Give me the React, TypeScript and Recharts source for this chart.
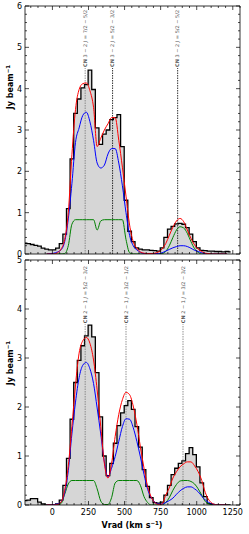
import { ComposedChart, Area, Line, XAxis, YAxis, ReferenceLine } from "recharts";

// channel velocities (km/s)
const velocity = [
  -190, -165, -140, -115, -90, -65, -40, -15, 10, 35,
  60, 85, 110, 135, 160, 185, 210, 235, 260, 285,
  310, 335, 360, 385, 410, 435, 460, 485, 510, 535,
  560, 585, 610, 635, 660, 685, 710, 735, 760, 785,
  810, 835, 860, 885, 910, 935, 960, 985, 1010, 1035,
  1060, 1085, 1110, 1135, 1160, 1185, 1210, 1235,
];

// CN 3-2 panel
const topObserved = [
  0.26, 0.25, 0.23, 0.21, 0.19, 0.14, 0.12, 0.1, 0.1, 0.14,
  0.25, 0.48, 1.1, 2.3, 3.4, 3.75, 4.02, 4.1, 4.45, 3.98,
  3.05, 2.65, 2.9, 3.0, 3.25, 3.3, 3.37, 2.6, 1.3, 0.55,
  0.3, 0.15, 0.12, 0.1, 0.1, 0.09, 0.08, 0.07, 0.15, 0.4,
  0.6, 0.67, 0.73, 0.74, 0.72, 0.64, 0.48, 0.3, 0.15, 0.09,
  0.08, 0.07, 0.07, 0.06, 0.06, 0.05, 0.06, 0.05,
];
const topTotal = [
  null, null, null, null, null, null, 0, 0, 0, 0.03,
  0.12, 0.35, 1.0, 2.4, 3.5, 3.98, 4.12, 4.14, 3.95, 3.55,
  2.6, 2.8, 3.0, 3.15, 3.3, 3.3, 2.75, 2.1, 1.4, 0.7,
  0.3, 0.14, 0.05, 0.02, 0.01, 0.01, 0.02, 0.05, 0.12, 0.25,
  0.45, 0.65, 0.8, 0.86, 0.78, 0.58, 0.38, 0.22, 0.12, 0.06,
  0.02, 0.01, 0, 0, 0, 0, 0, null,
];
const topBroad = [
  null, null, null, null, null, null, 0, 0.01, 0.02, 0.05,
  0.1, 0.3, 0.85, 1.7, 2.7, 3.05, 3.35, 3.43, 3.2, 2.75,
  2.2, 2.08, 2.15, 2.42, 2.55, 2.55, 2.2, 1.65, 1.0, 0.45,
  0.2, 0.1, 0.04, 0.01, 0.01, 0.01, 0.01, 0.01, 0.03, 0.07,
  0.11, 0.15, 0.18, 0.2, 0.2, 0.18, 0.14, 0.09, 0.06, 0.03,
  0.01, 0, 0, 0, 0, 0, 0, null,
];
const topNarrow = [
  null, null, null, null, null, null, 0, 0, 0, 0,
  0, 0.01, 0.2, 0.72, 0.83, 0.83, 0.83, 0.83, 0.83, 0.83,
  0.58, 0.8, 0.83, 0.83, 0.83, 0.83, 0.83, 0.83, 0.35, 0.03,
  0, 0, 0, 0, 0, 0, 0, 0, 0.01, 0.06,
  0.2, 0.4, 0.58, 0.66, 0.63, 0.5, 0.3, 0.13, 0.04, 0,
  0, 0, 0, 0, 0, 0, 0, null,
];

// CN 2-1 panel
const bottomObserved = [
  0.09, 0.1, 0.13, 0.13, 0.06, 0.02, 0, 0, 0, 0.02,
  0.1, 0.4, 0.95, 1.75, 2.5, 2.95, 3.25, 3.45, 3.67, 3.43,
  2.7, 1.8, 1.0, 0.6, 0.85, 1.26, 1.62, 1.88, 2.03, 2.13,
  1.95, 1.6, 1.18, 0.72, 0.38, 0.15, 0.05, 0.04, 0.06, 0.2,
  0.4, 0.62, 0.75, 0.85, 0.9, 1.05, 1.17, 1.03, 0.78, 0.45,
  0.17, 0.03, 0.01, 0, 0, 0, 0, 0,
];
const bottomTotal = [
  null, null, null, null, null, null, 0, 0, 0, 0.01,
  0.06, 0.3, 0.8, 1.6, 2.45, 3.1, 3.35, 3.42, 3.3, 2.96,
  2.35, 1.6, 0.85, 0.55, 0.85, 1.4, 1.85, 2.15, 2.3, 2.25,
  2.02, 1.65, 1.18, 0.75, 0.38, 0.16, 0.05, 0.01, 0.02, 0.2,
  0.35, 0.55, 0.68, 0.78, 0.84, 0.88, 0.88, 0.8, 0.68, 0.5,
  0.25, 0.1, 0.03, 0, 0, 0, 0, null,
];
const bottomBroad = [
  null, null, null, null, null, null, 0, 0, 0.01, 0.02,
  0.06, 0.25, 0.7, 1.45, 2.1, 2.6, 2.85, 2.91, 2.78, 2.48,
  1.98, 1.45, 0.88, 0.57, 0.75, 0.99, 1.3, 1.6, 1.76, 1.75,
  1.58, 1.3, 0.98, 0.62, 0.32, 0.15, 0.06, 0.02, 0.02, 0.05,
  0.09, 0.14, 0.22, 0.29, 0.34, 0.37, 0.37, 0.33, 0.27, 0.18,
  0.1, 0.05, 0.02, 0, 0, 0, 0, null,
];
const bottomNarrow = [
  null, null, null, null, null, null, 0, 0, 0, 0,
  0.03, 0.22, 0.43, 0.5, 0.5, 0.5, 0.5, 0.5, 0.5, 0.5,
  0.33, 0.08, 0.01, 0.01, 0.15, 0.45, 0.5, 0.5, 0.5, 0.5,
  0.5, 0.5, 0.4, 0.17, 0.05, 0, 0, 0, 0, 0.05,
  0.15, 0.3, 0.42, 0.49, 0.5, 0.5, 0.48, 0.43, 0.33, 0.2,
  0.07, 0.02, 0, 0, 0, 0, 0, null,
];

// transitions marked with vertical lines
const topLines = [
  { v: 227, n: "3 − 2", a: "7/2", b: "5/2", color: "#777" },
  { v: 417, n: "3 − 2", a: "5/2", b: "3/2", color: "#000" },
  { v: 868, n: "3 − 2", a: "5/2", b: "5/2", color: "#000" },
];
const bottomLines = [
  { v: 227, n: "2 − 1", a: "5/2", b: "3/2", color: "#777" },
  { v: 510, n: "2 − 1", a: "3/2", b: "1/2", color: "#777" },
  { v: 905, n: "2 − 1", a: "3/2", b: "3/2", color: "#777" },
];

const xMajor = [0, 250, 500, 750, 1000, 1250];
const xTicks = [
  -150, -100, -50, 0, 50, 100, 150, 200, 250, 300, 350, 400, 450, 500, 550, 600,
  650, 700, 750, 800, 850, 900, 950, 1000, 1050, 1100, 1150, 1200, 1250, 1300,
];
const topYMajor = [0, 1, 2, 3, 4, 5, 6];
const topYTicks = [
  0, 0.2, 0.4, 0.6, 0.8, 1, 1.2, 1.4, 1.6, 1.8, 2, 2.2, 2.4, 2.6, 2.8, 3,
  3.2, 3.4, 3.6, 3.8, 4, 4.2, 4.4, 4.6, 4.8, 5, 5.2, 5.4, 5.6, 5.8, 6,
];
const bottomYMajor = [0, 1, 2, 3, 4, 5];
const bottomYTicks = [
  0, 0.2, 0.4, 0.6, 0.8, 1, 1.2, 1.4, 1.6, 1.8, 2, 2.2, 2.4, 2.6, 2.8, 3,
  3.2, 3.4, 3.6, 3.8, 4, 4.2, 4.4, 4.6, 4.8, 5,
];

const topData = velocity.map((v, i) => ({
  v, obs: topObserved[i], total: topTotal[i], broad: topBroad[i], narrow: topNarrow[i],
}));
const bottomData = velocity.map((v, i) => ({
  v, obs: bottomObserved[i], total: bottomTotal[i], broad: bottomBroad[i], narrow: bottomNarrow[i],
}));

const AX = "#000";

const bottomTick = (labels: boolean) => (p: any) => {
  const major = xMajor.includes(p.payload.value);
  return (
    <g>
      <line x1={p.x} x2={p.x} y1={p.y} y2={p.y - (major ? 4 : 2)} stroke={AX} strokeWidth={0.7} />
      {labels && major ? (
        <text x={p.x} y={p.y + 10} textAnchor="middle" fontSize={8} fill="#000">{p.payload.value}</text>
      ) : null}
    </g>
  );
};
const topTick = (p: any) => {
  const major = xMajor.includes(p.payload.value);
  return <line x1={p.x} x2={p.x} y1={p.y} y2={p.y + (major ? 4 : 2)} stroke={AX} strokeWidth={0.7} />;
};
const leftTick = (majors: number[]) => (p: any) => {
  const major = majors.includes(p.payload.value);
  return (
    <g>
      <line x1={p.x} x2={p.x + (major ? 4 : 2)} y1={p.y} y2={p.y} stroke={AX} strokeWidth={0.7} />
      {major ? (
        <text x={p.x - 3} y={p.y + 3} textAnchor="end" fontSize={8} fill="#000">{p.payload.value}</text>
      ) : null}
    </g>
  );
};
const rightTick = (majors: number[]) => (p: any) => {
  const major = majors.includes(p.payload.value);
  return <line x1={p.x} x2={p.x - (major ? 4 : 2)} y1={p.y} y2={p.y} stroke={AX} strokeWidth={0.7} />;
};

const lineLabel = (l: any) => (props: any) => {
  const vb = props.viewBox || {};
  return (
    <text transform={`translate(${vb.x + 1.8},${vb.y - 1}) rotate(-90)`} fontSize={5} fill="#555">
      <tspan fontWeight="bold">CN</tspan> {l.n} <tspan fontStyle="italic">J</tspan> = {l.a} − {l.b}
    </text>
  );
};

function Panel(props: any) {
  const { data, yMax, yMajor, yTicks, lines, height, margin, segTop, showX, labelY } = props;
  return (
    <ComposedChart width={249} height={height} data={data} margin={margin}>
      <XAxis
        dataKey="v" type="number" domain={[-190, 1300]} allowDataOverflow ticks={xTicks} interval={0}
        height={1} tickSize={0} tickMargin={0} tickLine={false} axisLine={{ stroke: AX, strokeWidth: 0.8 }}
        tick={bottomTick(showX)}
        label={showX ? {
          content: () => (
            <text x={132} y={height - 6} textAnchor="middle" fontSize={8} fontWeight="bold" fill="#000">
              Vrad (km s<tspan dy={-3} fontSize={5.5}>−1</tspan><tspan dy={3}>)</tspan>
            </text>
          ),
        } : undefined}
      />
      <XAxis
        xAxisId="top" orientation="top" dataKey="v" type="number" domain={[-190, 1300]} allowDataOverflow
        ticks={xTicks} interval={0} height={1} tickSize={0} tickMargin={0} tickLine={false}
        axisLine={{ stroke: AX, strokeWidth: 0.8 }} tick={topTick}
      />
      <YAxis
        type="number" domain={[0, yMax]} allowDataOverflow ticks={yTicks} interval={0} width={1}
        tickSize={0} tickMargin={0} tickLine={false} axisLine={{ stroke: AX, strokeWidth: 0.8 }}
        tick={leftTick(yMajor)}
        label={{
          content: () => (
            <text transform={`translate(13,${labelY}) rotate(-90)`} textAnchor="middle" fontSize={8} fontWeight="bold" fill="#000">
              Jy beam<tspan dy={-3} fontSize={5.5}>−1</tspan>
            </text>
          ),
        }}
      />
      <YAxis
        yAxisId="right" orientation="right" type="number" domain={[0, yMax]} allowDataOverflow ticks={yTicks}
        interval={0} width={1} tickSize={0} tickMargin={0} tickLine={false}
        axisLine={{ stroke: AX, strokeWidth: 0.8 }} tick={rightTick(yMajor)}
      />
      <Area
        dataKey="obs" type="step" stroke="#000" strokeWidth={1.3} fill="#d6d6d6" fillOpacity={1}
        baseValue={0} isAnimationActive={false} dot={false} activeDot={false}
      />
      {lines.map((l: any) => (
        <ReferenceLine
          key={l.v + l.a}
          segment={[{ x: l.v, y: 0 }, { x: l.v, y: segTop }]}
          stroke={l.color} strokeWidth={0.8} strokeDasharray="1.5 1"
          label={{ content: lineLabel(l) }}
        />
      ))}
      <Line dataKey="narrow" type="monotone" stroke="#008000" strokeWidth={1} dot={false} isAnimationActive={false} />
      <Line dataKey="broad" type="monotone" stroke="#0000ff" strokeWidth={1} dot={false} isAnimationActive={false} />
      <Line dataKey="total" type="monotone" stroke="#ff0000" strokeWidth={1} dot={false} isAnimationActive={false} />
    </ComposedChart>
  );
}

export default function App() {
  return (
    <div style={{ position: "absolute", left: 0, top: 0, width: 249, height: 534, fontFamily: "DejaVu Sans", background: "#fff" }}>
      <div style={{ position: "absolute", left: 0, top: 0 }}>
        <Panel
          data={topData} yMax={6} yMajor={topYMajor} yTicks={topYTicks} lines={topLines}
          height={262} margin={{ top: 5, right: 8, bottom: 7, left: 24 }} segTop={4.5} showX={false} labelY={87}
        />
      </div>
      <div style={{ position: "absolute", left: 0, top: 256 }}>
        <Panel
          data={bottomData} yMax={5} yMajor={bottomYMajor} yTicks={bottomYTicks} lines={bottomLines}
          height={278} margin={{ top: 3, right: 8, bottom: 28, left: 24 }} segTop={3.69} showX={true} labelY={107}
        />
      </div>
    </div>
  );
}
